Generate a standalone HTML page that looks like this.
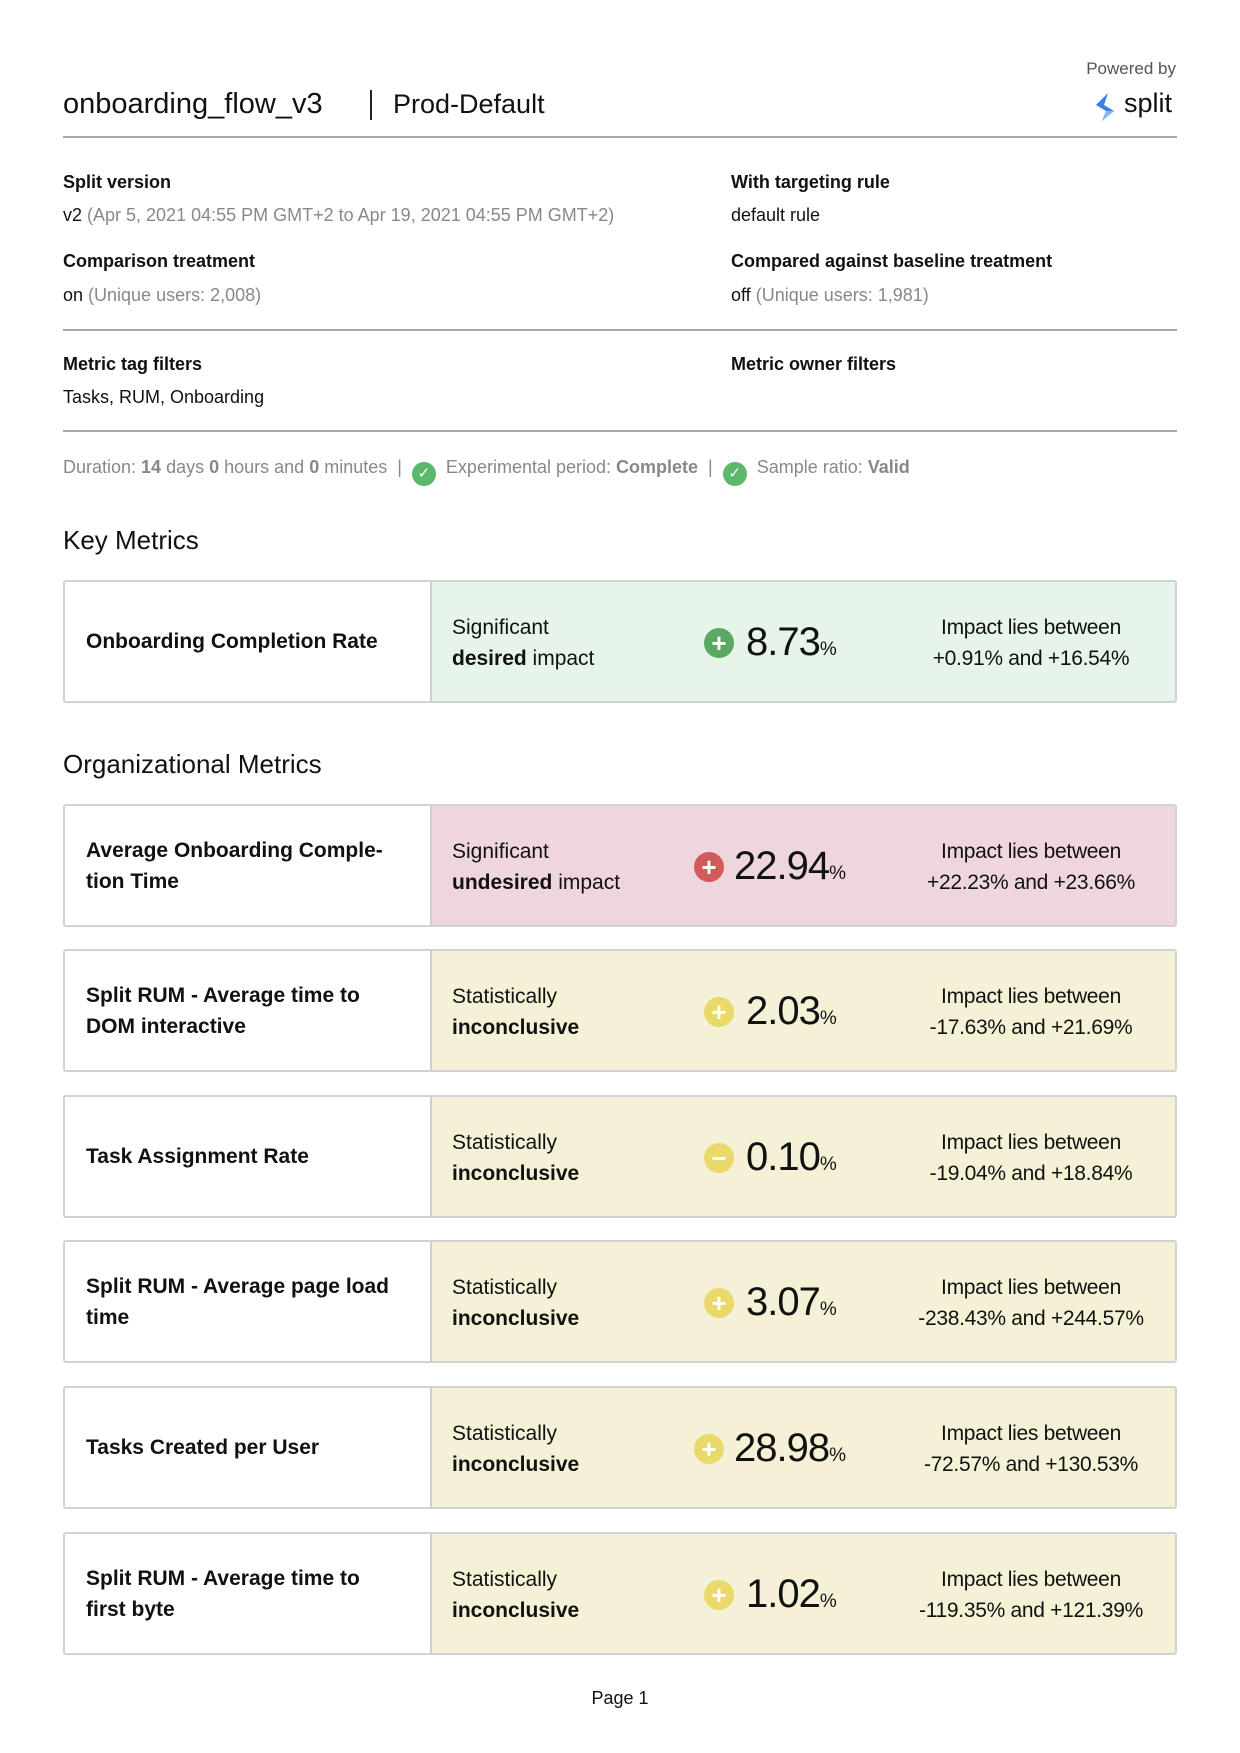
<!DOCTYPE html>
<html><head><meta charset="utf-8"><style>
*{margin:0;padding:0;box-sizing:border-box}
body{width:1240px;height:1753px;background:#fff;font-family:"Liberation Sans",sans-serif;color:#111;position:relative;overflow:hidden}
.a{position:absolute;white-space:nowrap}
.hr{position:absolute;left:63px;width:1114px;height:2px;background:#a8a8a8}
.lbl{font-size:18px;font-weight:bold}
.val{font-size:18px}
.g{color:#888}
.card{position:absolute;left:63px;width:1114px;height:123px;border:2px solid #d2d2d2;border-radius:3px;overflow:hidden}
.card .l{position:absolute;left:0;top:0;width:367px;height:100%;background:#fff;border-right:2px solid #cfcfcf;display:flex;align-items:center;padding-left:21px;font-weight:bold;font-size:21px;line-height:31px}
.card .r{position:absolute;left:367px;top:0;right:0;height:100%}
.st{position:absolute;left:20px;top:30px;font-size:21px;line-height:31px}
.ic{position:absolute;width:30px;height:30px;border-radius:50%;top:46px;color:#fff;font-weight:bold;font-size:26px;line-height:30px;text-align:center}
.num{position:absolute;top:36px;font-size:40px;line-height:48px;letter-spacing:-1px}
.num span{font-size:19px;letter-spacing:0}
.imp{position:absolute;left:449px;width:300px;top:30px;text-align:center;font-size:21px;line-height:31px;letter-spacing:-0.3px}
.green{background:#e7f4ea}.red{background:#eed6dc}.yel{background:#f5f1d6}
.hd{font-size:26px}
</style></head><body>
<div class="a" style="left:63px;top:88px;font-size:29px">onboarding_flow_v3</div>
<div class="a" style="left:370px;top:90px;width:2px;height:30px;background:#222"></div>
<div class="a" style="left:393px;top:89px;font-size:27px">Prod-Default</div>
<div class="a" style="right:64px;top:59px;font-size:17px;color:#555">Powered by</div>
<svg class="a" style="left:1092px;top:91px" width="28" height="34" viewBox="0 0 28 34"><path d="M16 2 L4 14 L14 20 L10 30 L22 20 L12 14 Z" fill="#3a7fe6"/><path d="M14 20 L10 30 L22 20 Z" fill="#8ab8f5"/></svg>
<div class="a" style="left:1124px;top:88px;font-size:27px">split</div>
<div class="hr" style="top:136px"></div>

<div class="a lbl" style="left:63px;top:172px">Split version</div>
<div class="a val" style="left:63px;top:205px">v2 <span class="g">(Apr 5, 2021 04:55 PM GMT+2 to Apr 19, 2021 04:55 PM GMT+2)</span></div>
<div class="a lbl" style="left:731px;top:172px">With targeting rule</div>
<div class="a val" style="left:731px;top:205px">default rule</div>
<div class="a lbl" style="left:63px;top:251px">Comparison treatment</div>
<div class="a val" style="left:63px;top:285px">on <span class="g">(Unique users: 2,008)</span></div>
<div class="a lbl" style="left:731px;top:251px">Compared against baseline treatment</div>
<div class="a val" style="left:731px;top:285px">off <span class="g">(Unique users: 1,981)</span></div>
<div class="hr" style="top:329px"></div>
<div class="a lbl" style="left:63px;top:354px">Metric tag filters</div>
<div class="a val" style="left:63px;top:387px">Tasks, RUM, Onboarding</div>
<div class="a lbl" style="left:731px;top:354px">Metric owner filters</div>
<div class="hr" style="top:430px"></div>

<div class="a" style="left:63px;top:457px;font-size:18px;color:#888">Duration: <b>14</b> days <b>0</b> hours and <b>0</b> minutes &nbsp;| &nbsp;<span style="display:inline-block;width:24px;height:24px;border-radius:50%;background:#5cb86a;color:#fff;text-align:center;font-size:15px;line-height:24px;vertical-align:-5px">✓</span>&nbsp; Experimental period: <b>Complete</b> &nbsp;| &nbsp;<span style="display:inline-block;width:24px;height:24px;border-radius:50%;background:#5cb86a;color:#fff;text-align:center;font-size:15px;line-height:24px;vertical-align:-5px">✓</span>&nbsp; Sample ratio: <b>Valid</b></div>

<div class="a hd" style="left:63px;top:525px">Key Metrics</div>
<div class="card" style="top:580px"><div class="l">Onboarding Completion Rate</div><div class="r green">
<div class="st">Significant<br><b>desired</b> impact</div><div class="ic" style="left:272px;background:#5aa864">+</div><div class="num" style="left:314px">8.73<span>%</span></div>
<div class="imp">Impact lies between<br>+0.91% and +16.54%</div></div></div>

<div class="a hd" style="left:63px;top:749px">Organizational Metrics</div>
<div class="card" style="top:804px"><div class="l">Average Onboarding Comple-<br>tion Time</div><div class="r red">
<div class="st">Significant<br><b>undesired</b> impact</div><div class="ic" style="left:262px;background:#d25a5a">+</div><div class="num" style="left:302px">22.94<span>%</span></div>
<div class="imp">Impact lies between<br>+22.23% and +23.66%</div></div></div>

<div class="card" style="top:949px"><div class="l">Split RUM - Average time to<br>DOM interactive</div><div class="r yel">
<div class="st">Statistically<br><b>inconclusive</b></div><div class="ic" style="left:272px;background:#e8d96a">+</div><div class="num" style="left:314px">2.03<span>%</span></div>
<div class="imp">Impact lies between<br>-17.63% and +21.69%</div></div></div>

<div class="card" style="top:1095px"><div class="l">Task Assignment Rate</div><div class="r yel">
<div class="st">Statistically<br><b>inconclusive</b></div><div class="ic" style="left:272px;background:#e8d96a">−</div><div class="num" style="left:314px">0.10<span>%</span></div>
<div class="imp">Impact lies between<br>-19.04% and +18.84%</div></div></div>

<div class="card" style="top:1240px"><div class="l">Split RUM - Average page load<br>time</div><div class="r yel">
<div class="st">Statistically<br><b>inconclusive</b></div><div class="ic" style="left:272px;background:#e8d96a">+</div><div class="num" style="left:314px">3.07<span>%</span></div>
<div class="imp">Impact lies between<br>-238.43% and +244.57%</div></div></div>

<div class="card" style="top:1386px"><div class="l">Tasks Created per User</div><div class="r yel">
<div class="st">Statistically<br><b>inconclusive</b></div><div class="ic" style="left:262px;background:#e8d96a">+</div><div class="num" style="left:302px">28.98<span>%</span></div>
<div class="imp">Impact lies between<br>-72.57% and +130.53%</div></div></div>

<div class="card" style="top:1532px"><div class="l">Split RUM - Average time to<br>first byte</div><div class="r yel">
<div class="st">Statistically<br><b>inconclusive</b></div><div class="ic" style="left:272px;background:#e8d96a">+</div><div class="num" style="left:314px">1.02<span>%</span></div>
<div class="imp">Impact lies between<br>-119.35% and +121.39%</div></div></div>

<div class="a" style="left:0;width:1240px;text-align:center;top:1688px;font-size:18px">Page 1</div>
</body></html>
